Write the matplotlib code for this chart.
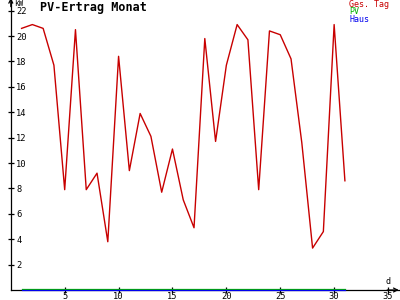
import matplotlib
matplotlib.use("Agg")
import matplotlib.pyplot as plt

days = list(range(1, 32))
ges_tag = [20.6, 20.9, 20.6, 17.7, 7.9, 20.5, 7.9, 9.2, 3.8, 18.4,
           9.4, 13.9, 12.1, 7.7, 11.1, 7.1, 4.9, 19.8, 11.7, 17.7,
           20.9, 19.7, 7.9, 20.4, 20.1, 18.2, 11.6, 3.3, 4.6, 20.9, 8.6]
pv = [0.08] * 31
haus = [0.0] * 31
yticks = [2, 4, 6, 8, 10, 12, 14, 16, 18, 20, 22]
xticks = [5, 10, 15, 20, 25, 30, 35]

RED = "#c80000"
GREEN = "#00b000"
BLUE = "#0000ee"
MONO = "DejaVu Sans Mono"

fig = plt.figure(figsize=(4, 3), dpi=100)
ax = fig.add_axes([10.8 / 400, 10 / 300, 388 / 400, 23 * 12.7 / 300])
ax.set_xlim(0, 36)
ax.set_ylim(0, 23)

ax.plot(days, pv, color=GREEN, lw=0.9, clip_on=False, zorder=3)
ax.plot(days, haus, color=BLUE, lw=0.9, clip_on=False, zorder=4)
ax.plot(days, ges_tag, color=RED, lw=1.0, zorder=5)

ax.spines["top"].set_visible(False)
ax.spines["right"].set_visible(False)
ax.spines["left"].set_linewidth(0.9)
ax.spines["bottom"].set_linewidth(0.9)
ax.spines["left"].set_zorder(2)
ax.spines["bottom"].set_zorder(2)
# arrow heads
ax.annotate("", xy=(1.0, 0), xytext=(0.97, 0), xycoords="axes fraction",
            annotation_clip=False,
            arrowprops=dict(arrowstyle="->", color="black", lw=0.9,
                            shrinkA=0, shrinkB=0, mutation_scale=7))
ax.annotate("", xy=(0, 1.0), xytext=(0, 0.97), xycoords="axes fraction",
            annotation_clip=False,
            arrowprops=dict(arrowstyle="->", color="black", lw=0.9,
                            shrinkA=0, shrinkB=0, mutation_scale=7))

ax.set_xticks(xticks)
ax.set_xticklabels([str(t) for t in xticks])
ax.set_yticks(yticks)
ax.set_yticklabels([str(t) for t in yticks])
ax.tick_params(direction="inout", length=5, width=0.9, colors="black",
               labelsize=6.3)
ax.tick_params(axis="x", pad=-1.2)
ax.tick_params(axis="y", pad=-6.3)
for lab in ax.get_yticklabels():
    lab.set_ha("left")
    lab.set_family(MONO)
for lab in ax.get_xticklabels():
    lab.set_family(MONO)

fig.text(40 / 400, 1 - 7 / 300, "PV-Ertrag Monat", family=MONO,
         fontweight="bold", fontsize=8.5, ha="left", va="center")
fig.text(14 / 400, 1 - 4 / 300, "kW", family=MONO, fontsize=5.5,
         ha="left", va="center")
fig.text(386 / 400, 1 - 282 / 300, "d", family=MONO, fontsize=6,
         ha="left", va="center")

fig.text(349 / 400, 1 - 4.5 / 300, "Ges. Tag", family=MONO, fontsize=6,
         color=RED, ha="left", va="center")
fig.text(349 / 400, 1 - 12 / 300, "PV", family=MONO, fontsize=6,
         color=GREEN, ha="left", va="center")
fig.text(349 / 400, 1 - 20 / 300, "Haus", family=MONO, fontsize=6,
         color=BLUE, ha="left", va="center")

fig.savefig("out.png", dpi=100, facecolor="white")
